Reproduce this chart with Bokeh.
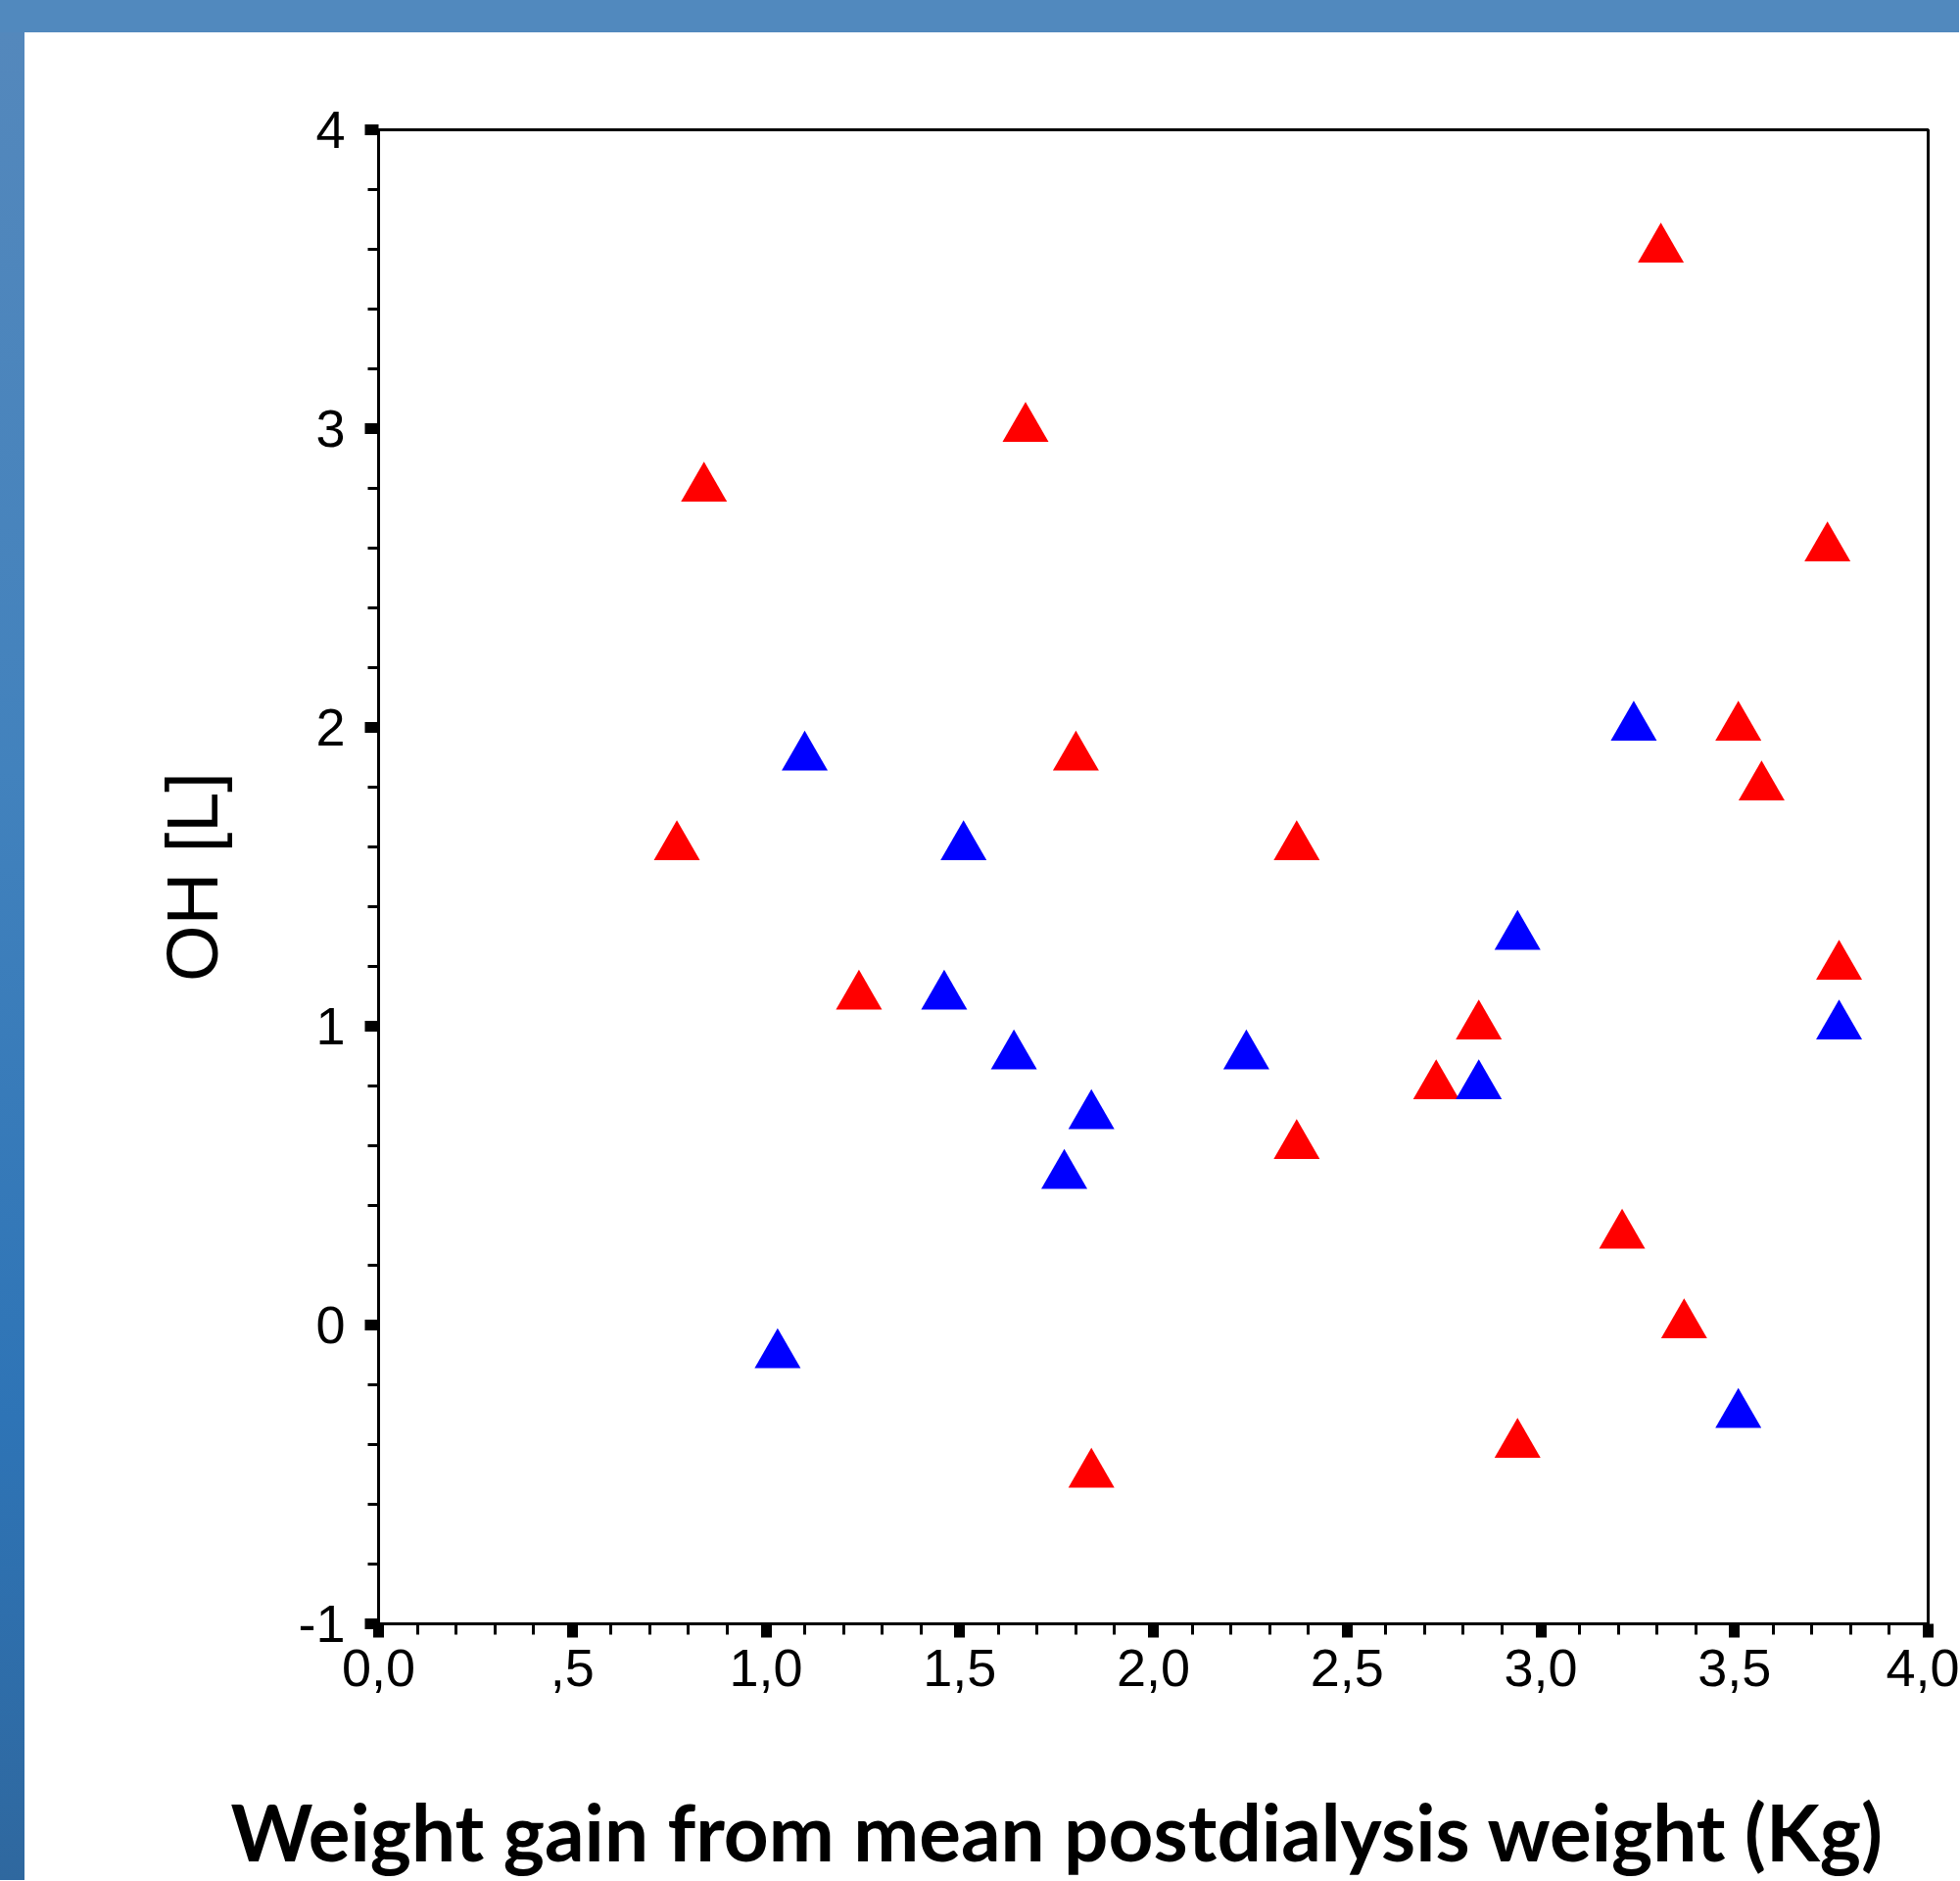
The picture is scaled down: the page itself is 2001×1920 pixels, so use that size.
from bokeh.plotting import figure
from bokeh.models import Range1d, FixedTicker, Div, Title
from bokeh.layouts import column, row
from bokeh.embed import file_html
from bokeh.resources import INLINE

# ---- data ----
red_x = [1.67, 0.84, 1.80, 0.77, 3.31, 3.74, 3.51, 3.57, 2.37, 1.24,
         1.84, 3.77, 2.84, 2.73, 2.37, 3.21, 3.37, 2.94]
red_y = [3.0, 2.8, 1.9, 1.6, 3.6, 2.6, 2.0, 1.8, 1.6, 1.1,
         -0.5, 1.2, 1.0, 0.8, 0.6, 0.3, 0.0, -0.4]
blue_x = [1.10, 1.51, 3.24, 1.46, 1.64, 1.84, 1.77, 1.03, 2.94, 3.77, 2.24, 2.84, 3.51]
blue_y = [1.9, 1.6, 2.0, 1.1, 0.9, 0.7, 0.5, -0.1, 1.3, 1.0, 0.9, 0.8, -0.3]

x_ticks = [0.0, 0.5, 1.0, 1.5, 2.0, 2.5, 3.0, 3.5, 4.0]
x_tick_labels = ["0,0", ",5", "1,0", "1,5", "2,0", "2,5", "3,0", "3,5", "4,0"]
x_minor_ticks = [round(0.1 * i, 1) for i in range(41)]
y_ticks = [-1, 0, 1, 2, 3, 4]
y_tick_labels = ["-1", "0", "1", "2", "3", "4"]
y_minor_ticks = [round(-1 + 0.2 * i, 1) for i in range(26)]

x_title = "Weight gain from mean postdialysis weight (Kg)"
y_title = "OH [L]"

# ---- figure ----
p = figure(frame_width=1582, frame_height=1525, output_backend="svg", toolbar_location=None,
           x_range=Range1d(0, 4), y_range=Range1d(-1, 4),
           min_border_left=361, min_border_right=32, min_border_top=99, min_border_bottom=262)
p.background_fill_color = "white"
p.border_fill_color = "white"
p.outline_line_color = "black"
p.outline_line_width = 3
p.xgrid.visible = False
p.ygrid.visible = False

xa = p.xaxis[0]
xa.ticker = FixedTicker(ticks=x_ticks, minor_ticks=x_minor_ticks)
xa.major_label_overrides = {t: l for t, l in zip(x_ticks, x_tick_labels)}
ya = p.yaxis[0]
ya.ticker = FixedTicker(ticks=y_ticks, minor_ticks=y_minor_ticks)
ya.major_label_overrides = {t: l for t, l in zip(y_ticks, y_tick_labels)}

for ax in (xa, ya):
    ax.axis_line_width = 3
    ax.axis_line_color = "black"
    ax.major_tick_line_width = 11
    ax.major_tick_line_color = "black"
    ax.major_tick_in = 0
    ax.major_tick_out = 14
    ax.minor_tick_line_width = 3
    ax.minor_tick_line_color = "black"
    ax.minor_tick_in = 0
    ax.minor_tick_out = 11
    ax.major_label_text_font = "Liberation Sans"
    ax.major_label_text_font_size = "54px"
    ax.major_label_text_color = "black"
    ax.major_label_standoff = 12

ya.major_label_standoff = 20
ya.axis_label = y_title
ya.axis_label_text_font = "Liberation Sans"
ya.axis_label_text_font_size = "74px"
ya.axis_label_text_font_style = "normal"
ya.axis_label_text_color = "black"
ya.axis_label_standoff = 63

# spacer below the x tick labels, so the title sits where the reference has it
xa.axis_label = " "
xa.axis_label_text_font_size = "1px"
xa.axis_label_standoff = 93

p.add_layout(Title(text=x_title, align="left", offset=-151, vertical_align="top",
                   text_font="Lato", text_font_size="80px",
                   text_font_style="bold", text_color="black", standoff=0), "below")

p.scatter(red_x, red_y, marker="triangle", size=47, fill_color="#FF0000", line_color=None)
p.scatter(blue_x, blue_y, marker="triangle", size=47, fill_color="#0000FF", line_color=None)

top_band = Div(text="", width=2000, height=33, margin=0,
               styles={"background": "#5189BE"})
left_band = Div(text="", width=25, height=1886, margin=0,
                styles={"background": "linear-gradient(to bottom, #5488BC 0%, #4282BD 40%, #2E74B6 75%, #2F689F 100%)"})

layout = column(top_band, row(left_band, p, spacing=0), spacing=0)

open("out.html", "w").write(file_html(layout, INLINE))
